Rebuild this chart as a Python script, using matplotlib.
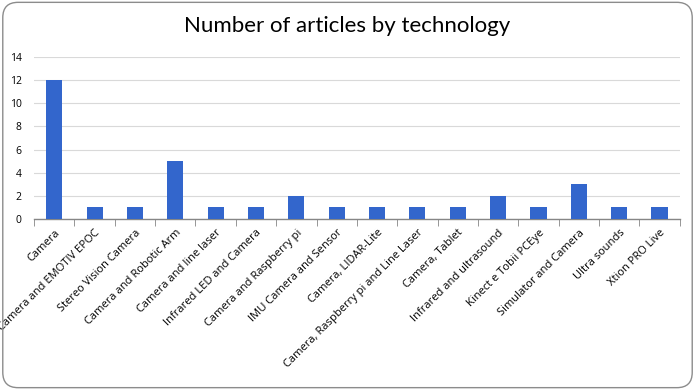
import matplotlib.pyplot as plt
import numpy as np
from matplotlib.patches import FancyBboxPatch

# data
technologies = ["Camera", "Camera and EMOTIV EPOC", "Stereo Vision Camera",
                "Camera and Robotic Arm", "Camera and line laser",
                "Infrared LED and Camera", "Camera and Raspberry pi",
                "IMU Camera and Sensor", "Camera, LIDAR-Lite",
                "Camera, Raspberry pi and Line Laser", "Camera, Tablet",
                "Infrared and ultrasound", "Kinect e Tobii PCEye",
                "Simulator and Camera", "Ultra sounds", "Xtion PRO Live"]
articles = [12, 1, 1, 5, 1, 1, 2, 1, 1, 1, 1, 2, 1, 3, 1, 1]
y_ticks = [0, 2, 4, 6, 8, 10, 12, 14]

fig = plt.figure(figsize=(6.95, 3.90), dpi=100)
ax = fig.add_axes([0.049, 0.4385, 0.929, 0.4155])

x = np.arange(len(technologies))
ax.bar(x, articles, width=0.4, color="#3366CC", zorder=3)

ax.set_xlim(-0.5, len(technologies) - 0.5)
ax.set_ylim(0, 14)
ax.set_yticks(y_ticks)
ax.yaxis.grid(True, color="#d9d9d9", linewidth=0.8, zorder=0)
ax.tick_params(axis="y", length=0, labelsize=7.5, pad=9)

ax.set_xticks(x)
ax.set_xticklabels(technologies, rotation=45, ha="right", rotation_mode="anchor",
                   fontsize=8, family="Open Sans")
ax.set_xticks(np.arange(-0.5, len(technologies)), minor=True)
ax.tick_params(axis="x", which="major", length=0, pad=6)
ax.tick_params(axis="x", which="minor", length=5, color="#868686", direction="out")

for s in ["top", "right", "left"]:
    ax.spines[s].set_visible(False)
ax.spines["bottom"].set_color("#868686")
ax.spines["bottom"].set_linewidth(1.0)
for lbl in ax.get_yticklabels():
    lbl.set_family("Open Sans")

fig.text(0.5, 0.933, "Number of articles by technology", ha="center", va="center",
         fontsize=16, family="Lato")

# rounded frame around the chart
frame = FancyBboxPatch((0.004, 0.006), 0.992, 0.988, boxstyle="round,pad=0,rounding_size=0.022",
                       transform=fig.transFigure, fill=False, edgecolor="#8c8c8c",
                       linewidth=1.0, mutation_aspect=695 / 390)
fig.patches.append(frame)

fig.savefig("out.png", dpi=100)
